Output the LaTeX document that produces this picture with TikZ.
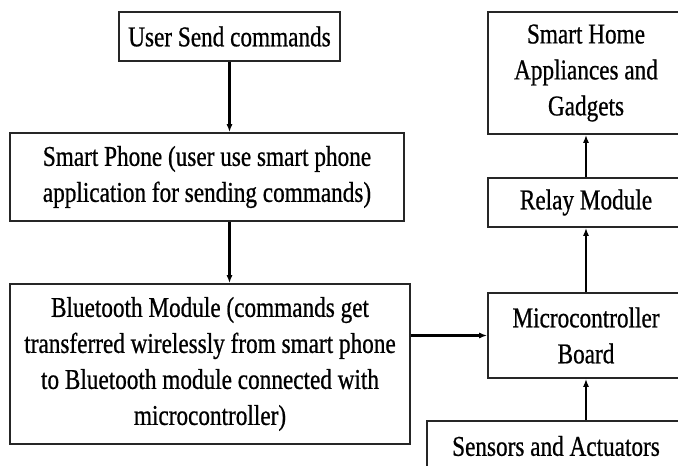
\documentclass[tikz,border=0pt]{standalone}
\usepackage{fontspec}
\setmainfont{Liberation Serif}[FakeStretch=0.81,FakeBold=0.7]
\usetikzlibrary{arrows.meta}
\begin{document}
\begin{tikzpicture}[x=0.75pt,y=-0.75pt,
  blk/.style={draw=black!85,line width=1.2pt,align=center,inner sep=0pt,
    font=\fontsize{21.5pt}{27pt}\selectfont},
  arr/.style={line width=1.9pt,-{Latex[length=6pt,width=4.5pt]}}]
\clip (0,0) rectangle (678,466);
\fill[white] (0,0) rectangle (678,466);
\node[blk,minimum width=221*0.75pt,minimum height=49*0.75pt] (user) at (229.5,36.5) {User Send commands};
\node[blk,minimum width=394*0.75pt,minimum height=88*0.75pt] (phone) at (207,177) {Smart Phone (user use smart phone\\application for sending commands)};
\node[blk,minimum width=400*0.75pt,minimum height=160*0.75pt] (bt) at (210,364) {Bluetooth Module (commands get\\transferred wirelessly from smart phone\\to Bluetooth module connected with\\microcontroller)};
\node[blk,minimum width=196*0.75pt,minimum height=122*0.75pt] (home) at (586,73) {Smart Home\\Appliances and\\Gadgets};
\node[blk,minimum width=196*0.75pt,minimum height=49*0.75pt] (relay) at (586,202.5) {Relay Module};
\node[blk,minimum width=196*0.75pt,minimum height=85*0.75pt] (mc) at (586,335.5) {Microcontroller\\Board};
\node[blk,minimum width=258*0.75pt,minimum height=50*0.75pt] (sens) at (556,446) {Sensors and Actuators};
\draw[arr] (user.south) -- (user.south |- phone.north);
\draw[arr] (user.south |- phone.south) -- (user.south |- bt.north);
\draw[arr] (mc.west -| bt.east) -- (mc.west);
\draw[arr] (mc.south |- sens.north) -- (mc.south);
\draw[arr] (mc.north) -- (relay.south);
\draw[arr] (relay.north) -- (home.south);
\end{tikzpicture}
\end{document}
